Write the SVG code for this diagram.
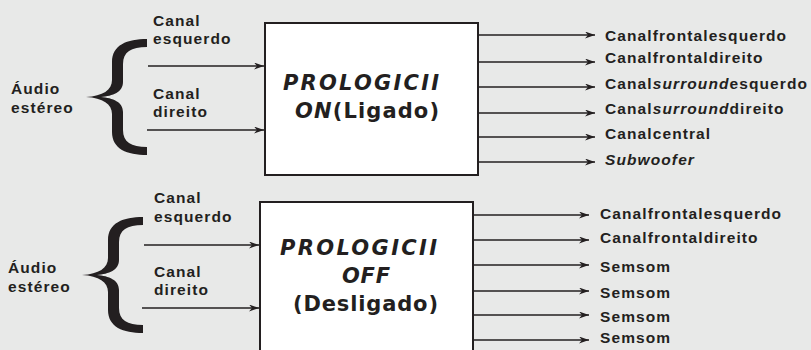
<svg xmlns="http://www.w3.org/2000/svg" width="811" height="350" viewBox="0 0 811 350">
<defs>
<style>
.lbl{font-family:"Liberation Sans",Arial,sans-serif;font-weight:bold;font-size:15.5px;letter-spacing:1.1px;fill:#231f20}
.big{font-family:"DejaVu Sans",Verdana,sans-serif;font-weight:bold;font-size:21px;fill:#231f20}
.it{font-style:italic}
.box{fill:#ffffff;stroke:#231f20;stroke-width:2}
.ln{stroke:#231f20;stroke-width:1.5;fill:none;marker-end:url(#ah)}
.brace{fill:#231f20}
</style>
<marker id="ah" markerUnits="userSpaceOnUse" markerWidth="11" markerHeight="8" refX="10" refY="3.5" orient="auto">
<path d="M0,0 L10,3.5 L0,7 L3,3.5 Z" fill="#231f20"/>
</marker>
<path id="bracePath" d="M147,39 C127,39 112,45 112,62 L112,80 C112,90 103,96 86,97 C103,98 112,104 112,114 L112,132 C112,149 127,155 147,155 L147,147 C131,147 123,142 123,130 L123,112 C123,102 113,98 101,97 C113,96 123,92 123,82 L123,64 C123,52 131,47 147,47 Z"/>
</defs>
<rect width="811" height="350" fill="#e8e9e8"/>

<g id="brace-top">
<use href="#bracePath" class="brace"/>
</g>
<g id="audio-top">
<text class="lbl" x="11" y="94">Áudio</text>
<text class="lbl" x="11" y="113">estéreo</text>
</g>
<g id="in-top-left">
<text class="lbl" x="153" y="26">Canal</text>
<text class="lbl" x="153" y="44">esquerdo</text>
</g>
<g id="in-top-right">
<text class="lbl" x="153" y="99">Canal</text>
<text class="lbl" x="153" y="117">direito</text>
</g>
<g id="node-on">
<rect class="box" x="265" y="23" width="213" height="152"/>
<text class="big" x="283" y="90" textLength="156" lengthAdjust="spacing"><tspan class="it">PROLOGICII</tspan></text>
<text class="big" x="295" y="118" textLength="144" lengthAdjust="spacing"><tspan class="it">ON</tspan>(Ligado)</text>
</g>
<g id="out-top">
<text class="lbl" x="605" y="41">Canalfrontalesquerdo</text>
<text class="lbl" x="605" y="63">Canalfrontaldireito</text>
<text class="lbl" x="605" y="89">Canal<tspan class="it">surround</tspan>esquerdo</text>
<text class="lbl" x="605" y="114">Canal<tspan class="it">surround</tspan>direito</text>
<text class="lbl" x="605" y="139">Canalcentral</text>
<text class="lbl" x="605" y="165"><tspan class="it">Subwoofer</tspan></text>
</g>

<g id="brace-bottom">
<use href="#bracePath" class="brace" transform="translate(-4,178)"/>
</g>
<g id="audio-bottom">
<text class="lbl" x="8" y="273">Áudio</text>
<text class="lbl" x="8" y="292">estéreo</text>
</g>
<g id="in-bottom-left">
<text class="lbl" x="154" y="203">Canal</text>
<text class="lbl" x="154" y="222">esquerdo</text>
</g>
<g id="in-bottom-right">
<text class="lbl" x="154" y="277">Canal</text>
<text class="lbl" x="154" y="295">direito</text>
</g>
<g id="node-off">
<rect class="box" x="260" y="202" width="213" height="200"/>
<text class="big" x="280" y="255" textLength="157" lengthAdjust="spacing"><tspan class="it">PROLOGICII</tspan></text>
<text class="big it" x="342" y="283" textLength="48" lengthAdjust="spacing">OFF</text>
<text class="big" x="293" y="311" textLength="145" lengthAdjust="spacing">(Desligado)</text>
</g>
<g id="out-bottom">
<text class="lbl" x="600" y="219">Canalfrontalesquerdo</text>
<text class="lbl" x="600" y="243">Canalfrontaldireito</text>
<text class="lbl" x="600" y="272">Semsom</text>
<text class="lbl" x="600" y="298">Semsom</text>
<text class="lbl" x="600" y="322">Semsom</text>
<text class="lbl" x="600" y="343">Semsom</text>
</g>

<g id="connectors">
<line class="ln" x1="148" y1="66" x2="264" y2="66"/>
<line class="ln" x1="147" y1="130" x2="264" y2="130"/>
<line class="ln" x1="478" y1="35" x2="595" y2="35"/>
<line class="ln" x1="478" y1="62" x2="595" y2="62"/>
<line class="ln" x1="478" y1="87" x2="595" y2="87"/>
<line class="ln" x1="478" y1="113" x2="595" y2="113"/>
<line class="ln" x1="478" y1="137" x2="595" y2="137"/>
<line class="ln" x1="478" y1="162" x2="595" y2="162"/>
<line class="ln" x1="144" y1="245" x2="259" y2="245"/>
<line class="ln" x1="142" y1="308" x2="259" y2="308"/>
<line class="ln" x1="473" y1="215" x2="589" y2="215"/>
<line class="ln" x1="473" y1="240" x2="589" y2="240"/>
<line class="ln" x1="473" y1="265" x2="589" y2="265"/>
<line class="ln" x1="473" y1="291" x2="589" y2="291"/>
<line class="ln" x1="473" y1="315" x2="589" y2="315"/>
<line class="ln" x1="473" y1="340" x2="589" y2="340"/>
</g>
</svg>
